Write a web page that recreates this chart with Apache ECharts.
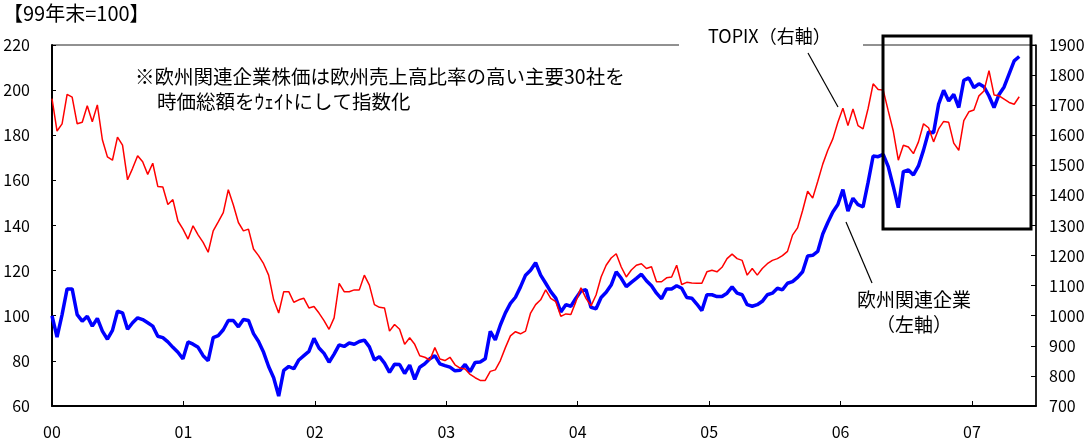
<!DOCTYPE html>
<html>
<head>
<meta charset="utf-8">
<script src="https://cdn.jsdelivr.net/npm/echarts@6/dist/echarts.min.js"></script>
<style>
html,body{margin:0;padding:0;background:#fff;}
#chart{width:1091px;height:440px;}
</style>
</head>
<body>
<div id="chart"></div>
<script>
// Bi-weekly observations starting at end of 1999 (x = years since 2000)
const euro = [
100, 90.5, 100.5, 111.9, 111.9, 100.5, 97.6, 99.8, 95.4, 98.8,
93.2, 89.6, 93.5, 102.0, 101.3, 94.0, 96.9, 99.1, 98.3, 96.9,
95.4, 90.9, 90.3, 88.4, 86.0, 83.8, 80.9, 88.4, 87.4, 86.0,
82.3, 80.1, 90.3, 91.2, 93.8, 97.9, 97.9, 95.1, 98.3, 97.9,
92.1, 88.6, 83.8, 77.5, 72.5, 64.4, 75.8, 77.5, 76.5, 80.4,
82.3, 84.2, 90.0, 85.7, 83.3, 79.4, 83.0, 87.1, 86.4, 87.9,
87.4, 88.6, 89.2, 86.2, 80.4, 81.9, 79.0, 74.9, 78.5, 78.4,
74.4, 78.1, 71.8, 77.2, 78.7, 80.9, 82.3, 78.7, 77.9, 77.2,
75.6, 75.8, 78.4, 75.2, 79.3, 79.5, 80.9, 93.1, 89.3, 95.9,
101.3, 105.5, 108.2, 112.8, 118.0, 120.2, 123.5, 118.0, 114.4,
110.7, 107.8, 101.7, 104.9, 104.2, 107.8, 111.0, 111.5, 103.7, 103.1,
108.1, 110.4, 113.6, 119.5, 116.6, 112.9, 114.8, 116.6, 118.4, 115.5,
113.3, 110.0, 107.5, 111.9, 111.9, 113.3, 112.2, 108.1, 107.8, 105.2,
102.3, 109.3, 109.3, 108.5, 108.5, 110.0, 112.8, 110.0, 109.3, 104.9,
104.2, 104.9, 106.4, 109.3, 110.0, 112.2, 111.5, 114.4,
115.1, 117.0, 119.5, 126.5, 126.8, 128.5, 136.2, 141.3, 146.0, 149.3,
155.9, 146.4, 152.1, 149.2, 148.3, 159.1, 170.8, 170.5, 171.5, 166.1,
157.3, 147.9, 163.9, 164.6, 162.4, 166.4, 173.4, 181.4, 181.1, 193.8,
199.9, 195.2, 198.1, 192.3, 204.3, 205.4, 201.1, 202.8, 201.5, 197.4,
192.3, 198.1, 201.4, 207.2, 213.0, 214.9
];
const topix = [
1722, 1614, 1638, 1736, 1727, 1638, 1643, 1698, 1645, 1701,
1585, 1528, 1517, 1594, 1567, 1452, 1490, 1532, 1512, 1470,
1507, 1430, 1428, 1370, 1386, 1315, 1288, 1255, 1299, 1269,
1244, 1211, 1282, 1312, 1343, 1419, 1368, 1310, 1282, 1288,
1222, 1200, 1173, 1135, 1053, 1009, 1080, 1080, 1045, 1053,
1058, 1026, 1031, 1009, 984, 955, 993, 1108, 1080, 1080,
1086, 1086, 1135, 1102, 1037, 1028, 1026, 949, 971, 955,
905, 927, 905, 867, 862, 853, 894, 856, 851, 862,
837, 826, 823, 805, 794, 785, 785, 815, 820, 851,
894, 933, 947, 940, 949, 1009, 1037, 1053, 1086,
1058, 1047, 998, 1006, 1004, 1047, 1093, 1058, 1033, 1069,
1129, 1168, 1192, 1206, 1162, 1129, 1152, 1168, 1173, 1157,
1163, 1113, 1113, 1126, 1129, 1168, 1104, 1111, 1109, 1108,
1108, 1146, 1151, 1146, 1161, 1190, 1205, 1190, 1184, 1135,
1157, 1135, 1157, 1173, 1184, 1190, 1200, 1214,
1268, 1292, 1350, 1414, 1391, 1446, 1504, 1550, 1588, 1643,
1690, 1632, 1687, 1632, 1621, 1689, 1771, 1752, 1750, 1681,
1614, 1517, 1567, 1561, 1539, 1578, 1638, 1625, 1578, 1621,
1646, 1643, 1574, 1550, 1649, 1678, 1684, 1731, 1747, 1815,
1734, 1731, 1720, 1709, 1703, 1728
];
const xTickLabels = ['00', '01', '02', '03', '04', '05', '06', '07'];
const leftTicks = { min: 60, max: 220, interval: 20 };
const rightTicks = { min: 700, max: 1900, interval: 100 };
const xMax = 7.487;
// dates as fraction of year since start (bi-weekly sampling)
const dates = euro.map((_, i) => +(i * 14 / 365.25).toFixed(4));

const FONT = '"Noto Sans CJK JP", "Noto Sans", sans-serif';
const chart = echarts.init(document.getElementById('chart'), null, { renderer: 'canvas' });

const option = {
  animation: false,
  backgroundColor: '#fff',
  grid: { left: 52, right: 55, top: 45, bottom: 29, show: true, borderColor: '#222', borderWidth: 1 },
  xAxis: {
    type: 'value', min: 0, max: xMax, interval: 1,
    axisLine: { show: true, lineStyle: { color: '#000', width: 2 } },
    axisTick: { show: true, inside: true, length: 5, lineStyle: { color: '#000', width: 1 } },
    axisLabel: { color: '#000', fontSize: 16, fontFamily: FONT, margin: 18, showMaxLabel: false,
      formatter: v => xTickLabels[Math.round(v)] !== undefined && Math.abs(v - Math.round(v)) < 1e-6 ? xTickLabels[Math.round(v)] : '' },
    splitLine: { show: false }
  },
  yAxis: [
    {
      type: 'value', position: 'left', min: leftTicks.min, max: leftTicks.max, interval: leftTicks.interval,
      axisLine: { show: true, lineStyle: { color: '#000', width: 2 } },
      axisTick: { show: true, inside: true, length: 4, lineStyle: { color: '#000' } },
      axisLabel: { color: '#000', fontSize: 16, fontFamily: FONT, margin: 22, formatter: v => String(v) },
      splitLine: { show: false }
    },
    {
      type: 'value', position: 'right', min: rightTicks.min, max: rightTicks.max, interval: rightTicks.interval,
      axisLine: { show: true, lineStyle: { color: '#000', width: 1.5 } },
      axisTick: { show: true, inside: true, length: 5, lineStyle: { color: '#000' } },
      axisLabel: { color: '#000', fontSize: 16, fontFamily: FONT, margin: 13, formatter: v => String(v) },
      splitLine: { show: false }
    }
  ],
  series: [
    {
      name: '欧州関連企業', type: 'line', yAxisIndex: 0, showSymbol: false, z: 2,
      data: dates.map((d, i) => [d, euro[i]]),
      lineStyle: { color: '#0000ff', width: 3.5 }, itemStyle: { color: '#0000ff' }
    },
    {
      name: 'TOPIX', type: 'line', yAxisIndex: 1, showSymbol: false, z: 3,
      data: dates.map((d, i) => [d, topix[i]]),
      lineStyle: { color: '#ff0000', width: 1.5 }, itemStyle: { color: '#ff0000' }
    }
  ],
  graphic: [
    { type: 'text', left: 3, top: 3, z: 20,
      style: { text: '【99年末=100】', font: '20px ' + FONT, fill: '#000' } },
    { type: 'text', left: 135, top: 67, z: 20,
      style: { text: '※欧州関連企業株価は欧州売上高比率の高い主要30社を', font: '19.5px ' + FONT, fill: '#000' } },
    { type: 'text', left: 157, top: 92, z: 20,
      style: { text: '時価総額をｳｪｲﾄにして指数化', font: '19.5px ' + FONT, fill: '#000' } },
    { type: 'rect', z: 15, shape: { x: 679, y: 41, width: 184, height: 8 }, style: { fill: '#fff' } },
    { type: 'text', left: 708, top: 27, z: 20,
      style: { text: 'TOPIX（右軸）', font: '18px ' + FONT, fill: '#000' } },
    { type: 'line', z: 20, shape: { x1: 808, y1: 53, x2: 838, y2: 107 }, style: { stroke: '#000', lineWidth: 1.2 } },
    { type: 'line', z: 20, shape: { x1: 846, y1: 222, x2: 872, y2: 283 }, style: { stroke: '#000', lineWidth: 1.2 } },
    { type: 'text', z: 20, x: 914, y: 300,
      style: { text: '欧州関連企業', font: '19px ' + FONT, fill: '#000', textAlign: 'center', textVerticalAlign: 'middle', align: 'center', verticalAlign: 'middle' } },
    { type: 'text', z: 20, x: 914, y: 325,
      style: { text: '（左軸）', font: '19px ' + FONT, fill: '#000', textAlign: 'center', textVerticalAlign: 'middle', align: 'center', verticalAlign: 'middle' } },
    { type: 'rect', z: 25, shape: { x: 883, y: 36, width: 148, height: 193 }, style: { fill: 'none', stroke: '#000', lineWidth: 3 } }
  ]
};
chart.setOption(option);
</script>
</body>
</html>
